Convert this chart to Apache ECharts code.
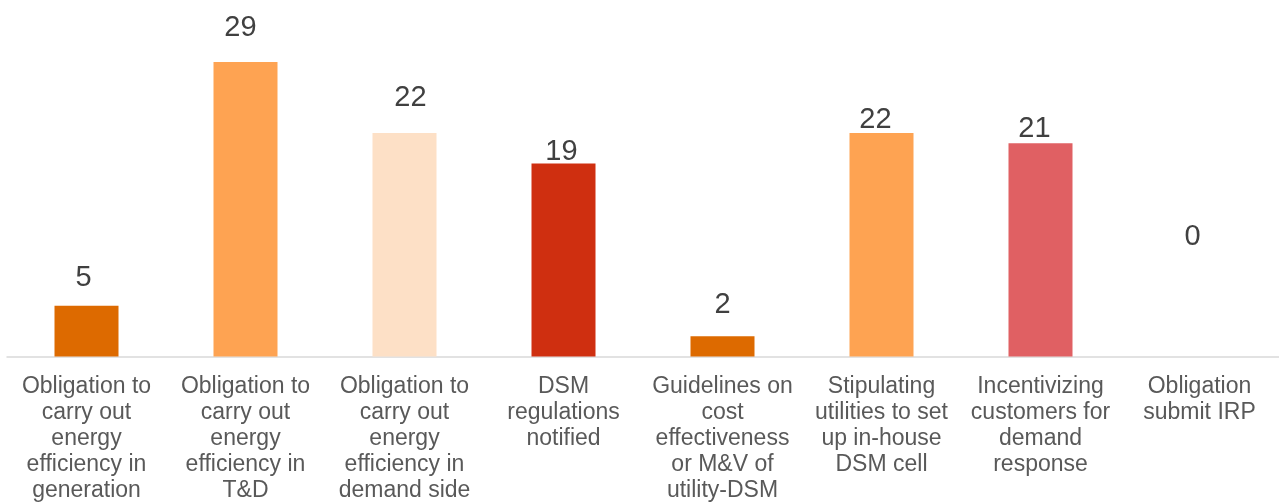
<!DOCTYPE html>
<html>
<head>
<meta charset="utf-8">
<style>
  html, body { margin: 0; padding: 0; background: #ffffff; }
  #chart { width: 1279px; height: 504px; }
</style>
<script src="https://cdn.jsdelivr.net/npm/echarts@6/dist/echarts.min.js"></script>
</head>
<body>
<div id="chart"></div>
<script>
// Number of states / regulators with each DSM-related provision
const categories = [
  'Obligation to\ncarry out\nenergy\nefficiency in\ngeneration',
  'Obligation to\ncarry out\nenergy\nefficiency in\nT&D',
  'Obligation to\ncarry out\nenergy\nefficiency in\ndemand side',
  'DSM\nregulations\nnotified',
  'Guidelines on\ncost\neffectiveness\nor M&V of\nutility-DSM',
  'Stipulating\nutilities to set\nup in-house\nDSM cell',
  'Incentivizing\ncustomers for\ndemand\nresponse',
  'Obligation\nsubmit IRP'
];
const counts = [5, 29, 22, 19, 2, 22, 21, 0];

// Bar fills, one per category
const barColors = ['#DD6A00', '#FEA352', '#FDE0C6', '#CF2F10', '#DD6A00', '#FEA352', '#E06063', '#FFFFFF'];
// Hand-placed value labels: [dx, lift above bar top] in px
const labelShift = [[-3, 13], [-5, 19], [6, 21], [-2, -3], [0, 17], [-6, -1], [-6, 0], [-7, 105]];

const FONT = '"Liberation Sans", Arial, Helvetica, sans-serif';

const seriesData = counts.map((v, i) => ({
  value: v,
  itemStyle: { color: barColors[i] },
  label: { offset: [labelShift[i][0], -labelShift[i][1]] }
}));

const chart = echarts.init(document.getElementById('chart'), null, { renderer: 'canvas' });
chart.setOption({
  animation: false,
  backgroundColor: '#ffffff',
  grid: { left: 7, right: 0, top: 1, bottom: 147.5, containLabel: false },
  xAxis: {
    type: 'category',
    data: categories,
    axisLine: { show: true, lineStyle: { color: '#D9D9D9', width: 1.5 } },
    axisTick: { show: false },
    axisLabel: {
      interval: 0,
      margin: 17,
      color: '#595959',
      fontFamily: FONT,
      fontSize: 23,
      lineHeight: 26,
      align: 'center'
    }
  },
  yAxis: {
    type: 'value',
    min: 0,
    max: 35,
    show: false,
    splitLine: { show: false }
  },
  series: [{
    type: 'bar',
    data: seriesData,
    barWidth: 64,
    label: {
      show: true,
      position: 'top',
      distance: 0,
      color: '#404040',
      fontFamily: FONT,
      fontSize: 29
    }
  }]
});
</script>
</body>
</html>
